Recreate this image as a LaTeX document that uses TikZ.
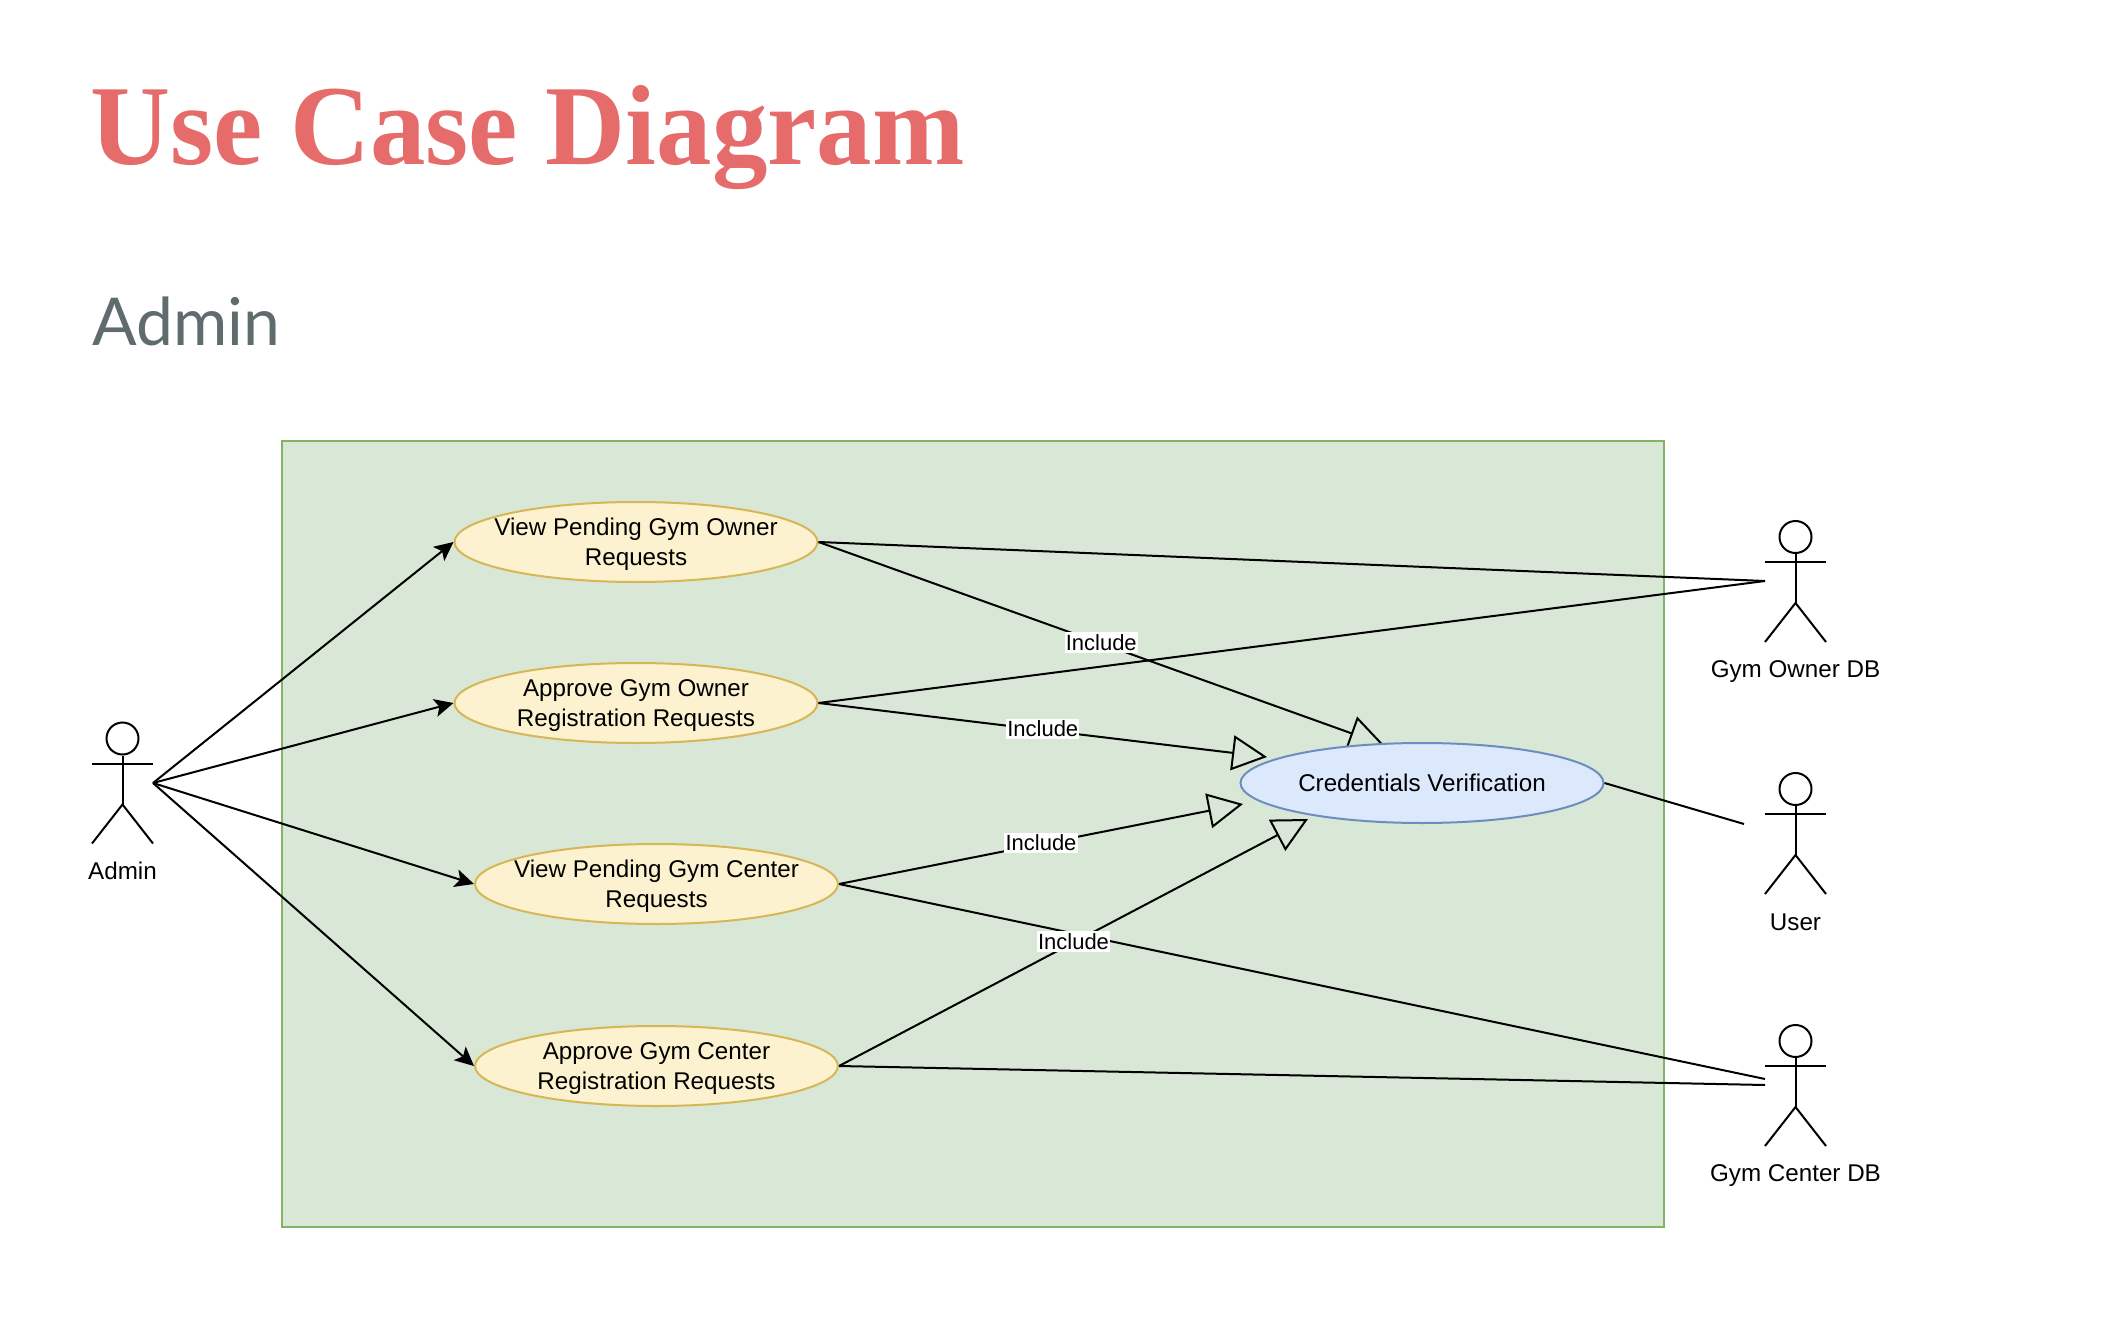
\documentclass[tikz,border=0pt]{standalone}
\usepackage{fontspec}
\setmainfont{Liberation Sans}
\newfontfamily\titlefont{Liberation Serif}
\newfontfamily\subfont{Lato}
\usetikzlibrary{arrows.meta,shapes.geometric}
\definecolor{titlered}{HTML}{E66B6B}
\definecolor{subgrey}{HTML}{5F6B6D}
\definecolor{boxfill}{HTML}{D9E7D6}
\definecolor{boxline}{HTML}{82B366}
\definecolor{ucfill}{HTML}{FDF2CF}
\definecolor{ucline}{HTML}{D6B656}
\definecolor{cvfill}{HTML}{DCE8FB}
\definecolor{cvline}{HTML}{6C8EBF}
\newcommand{\toppad}{\rule{0pt}{11pt}}
\tikzset{
  px/.style={x=0.5pt,y=-0.5pt},
  line/.style={draw=black,line width=1pt},
  usecase/.style={ellipse,draw=ucline,fill=ucfill,line width=1pt,minimum width=181.5pt,minimum height=40pt,inner sep=-14pt,align=center,font=\fontsize{12.1}{14.6}\selectfont},
  credcase/.style={usecase,draw=cvline,fill=cvfill},
  assoc/.style={line,-{Stealth[length=9.5pt,width=9pt,inset=2.2pt]}},
  incl/.style={line,-{Triangle[open,length=17.5pt,width=17.5pt,line width=1pt]}},
  incllabel/.style={fill=white,inner xsep=0.6pt,inner ysep=1.2pt,yshift=0.5pt,font=\fontsize{11}{13}\selectfont},
  actorlabel/.style={inner sep=0pt,font=\fontsize{12.1}{14}\selectfont},
  headcircle/.style={circle,draw=black,line width=1pt,minimum size=16pt,inner sep=0pt}
}
\newcommand{\actorfig}[3]{%
  % #1 name, #2 centre x, #3 head centre y
  \node[headcircle] (#1head) at (#2,#3) {};
  \coordinate (#1armL) at (#2-30.5,#3+25);
  \coordinate (#1armR) at (#2+30.5,#3+25);
  \coordinate (#1hip) at (#2,#3+66);
  \coordinate (#1legL) at (#2-30.5,#3+105);
  \coordinate (#1legR) at (#2+30.5,#3+105);
  \draw[line] (#1head.south) -- (#1hip);
  \draw[line] (#1armL) -- (#1armR);
  \draw[line] (#1legL) -- (#1hip) -- (#1legR);
}
\begin{document}
\begin{tikzpicture}[px]
\useasboundingbox (0,0) rectangle (2116,1332);
\fill[white] (0,0) rectangle (2116,1332);
\node[anchor=base west,inner sep=0pt,text=titlered] (title) at (90,165) {\titlefont\bfseries\fontsize{57}{60}\selectfont\scalebox{0.972}[1]{Use Case Diagram}};
\node[anchor=base west,inner sep=0pt,text=subgrey] (sub) at (92,345) {\subfont\fontsize{33}{36}\selectfont Admin};
\node[draw=boxline,fill=boxfill,line width=1pt,minimum width=691pt,minimum height=393pt,inner sep=0pt,anchor=north west] (system) at (280.5,439.5) {};

\node[usecase] (vpgo) at (636,542) {\toppad View Pending Gym Owner\\Requests};
\node[usecase] (ago) at (636,703) {\toppad Approve Gym Owner\\Registration Requests};
\node[usecase] (vpgc) at (656.5,884) {\toppad View Pending Gym Center\\Requests};
\node[usecase] (agc) at (656.5,1066) {\toppad Approve Gym Center\\Registration Requests};

\actorfig{admin}{122.5}{738.5}
\actorfig{owner}{1795.5}{537}
\actorfig{user}{1795.5}{789}
\actorfig{center}{1795.5}{1041}
\node[actorlabel] (adminl) at (122.5,871) {Admin};
\node[actorlabel] (ownerl) at (1795.5,672) {Gym Owner DB};
\node[actorlabel] (userl) at (1795.5,922) {User};
\node[actorlabel] (centerl) at (1795.5,1176) {Gym Center DB};

\coordinate (adminport) at (153,783);
\coordinate (ownerport) at (1765,581);
\coordinate (userport) at (1744,824);
\coordinate (centerportA) at (1765,1079);
\coordinate (centerportB) at (1765,1085);
\coordinate (tipA) at (1384,745);
\coordinate (tipB) at (1267,757);
\coordinate (tipC) at (1243,804);
\coordinate (tipD) at (1308,819);

\draw[assoc] (adminport) -- (vpgo.west);
\draw[assoc] (adminport) -- (ago.west);
\draw[assoc] (adminport) -- (vpgc.west);
\draw[assoc] (adminport) -- (agc.west);

\draw[line] (vpgo.east) -- (ownerport);
\draw[line] (ago.east) -- (ownerport);
\draw[line] (vpgc.east) -- (centerportA);
\draw[line] (agc.east) -- (centerportB);

\draw[incl] (vpgo.east) -- (tipA);
\draw[incl] (ago.east) -- (tipB);
\draw[incl] (vpgc.east) -- (tipC);
\draw[incl] (agc.east) -- (tipD);

\node[credcase] (cred) at (1422,783) {Credentials Verification};
\draw[line] (cred.east) -- (userport);

\path (vpgo.east) -- (tipA) node[midway,incllabel] (la) {Include};
\path (ago.east) -- (tipB) node[midway,incllabel] (lb) {Include};
\path (vpgc.east) -- (tipC) node[midway,incllabel] (lc) {Include};
\path (agc.east) -- (tipD) node[midway,incllabel] (ld) {Include};
\end{tikzpicture}
\end{document}
